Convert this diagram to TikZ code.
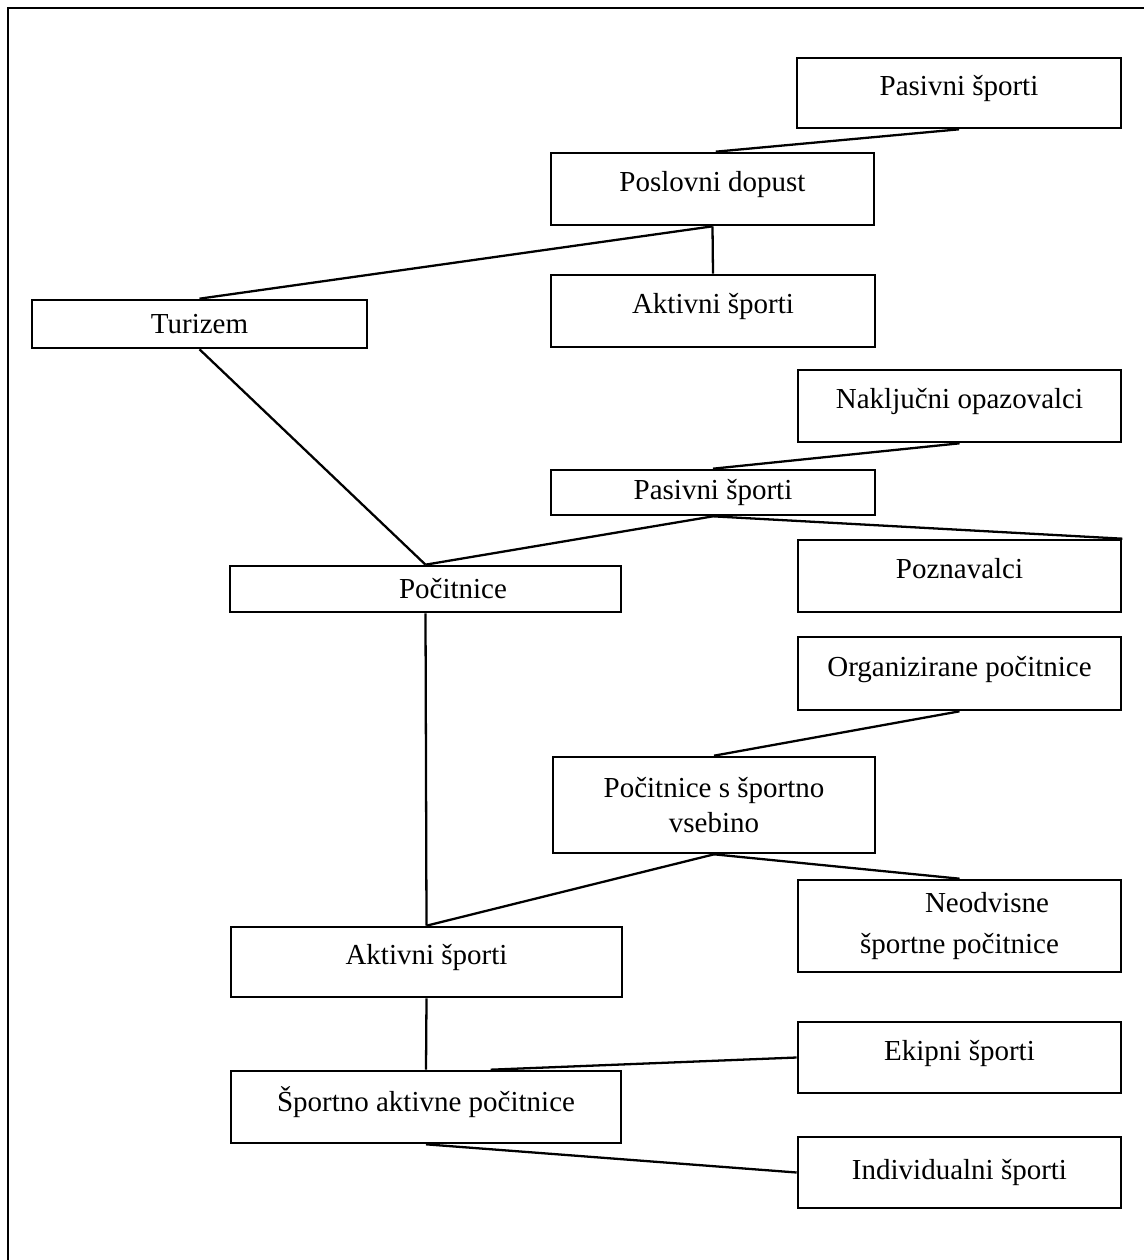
\documentclass[tikz,border=0pt]{standalone}
\usepackage{fontspec}
\setmainfont{Liberation Serif}
\begin{document}
\begin{tikzpicture}[
    box/.style={rectangle, draw=black, line width=1.5pt, inner sep=0pt, font=\fontsize{16.5}{20}\selectfont, align=center},
    tallbox/.style={box, text depth=0.3cm},
    link/.style={draw=black, line width=1.3pt}
]
    \useasboundingbox (0,0) rectangle (22.86,-25.2);
    % outer frame
    \draw[line width=1.5pt] (0.16,-26) -- (0.16,-0.16) -- (23.5,-0.16);

    % Turizem
    \node[box, minimum width=6.7cm, minimum height=0.96cm] (tur) at (3.99,-6.48) {Turizem};

    % Poslovni dopust
    \node[tallbox, minimum width=6.46cm, minimum height=1.44cm] (posl) at (14.25,-3.78) {Poslovni dopust};
    \node[tallbox, minimum width=6.48cm, minimum height=1.4cm] (pasT) at (19.18,-1.86) {Pasivni športi};
    \node[tallbox, minimum width=6.48cm, minimum height=1.44cm] (aktT) at (14.26,-6.22) {Aktivni športi};

    % Pocitnice
    \node[box, minimum width=7.82cm, minimum height=0.92cm] (poc) at (8.51,-11.78) {\hspace*{1.1cm}Počitnice};

    % Pasivni sporti
    \node[box, minimum width=6.48cm, minimum height=0.9cm] (pasM) at (14.26,-9.85) {Pasivni športi};
    \node[tallbox, minimum width=6.46cm, minimum height=1.44cm] (nakl) at (19.19,-8.12) {Naključni opazovalci};
    \node[tallbox, minimum width=6.46cm, minimum height=1.44cm] (pozn) at (19.19,-11.52) {Poznavalci};

    % Aktivni sporti
    \node[tallbox, minimum width=7.82cm, minimum height=1.4cm] (aktB) at (8.53,-19.24) {Aktivni športi};

    % Pocitnice s sportno vsebino
    \node[box, minimum width=6.44cm, minimum height=1.92cm] (pss) at (14.28,-16.1) {Počitnice s športno\\vsebino};
    \node[tallbox, minimum width=6.46cm, minimum height=1.46cm] (org) at (19.19,-13.47) {Organizirane počitnice};
    \node[box, minimum width=6.46cm, minimum height=1.84cm, font=\fontsize{16.5}{23}\selectfont] (neo) at (19.19,-18.52) {\hspace*{1.1cm}Neodvisne\\športne počitnice};

    % Sportno aktivne pocitnice
    \node[tallbox, minimum width=7.8cm, minimum height=1.44cm] (spa) at (8.52,-22.14) {Športno aktivne počitnice};
    \node[tallbox, minimum width=6.46cm, minimum height=1.42cm] (eki) at (19.19,-21.15) {Ekipni športi};
    \node[box, minimum width=6.46cm, minimum height=1.42cm] (ind) at (19.19,-23.45) {Individualni športi};

    % connectors
    \draw[link] (tur.north) -- (posl.south);
    \draw[link] (posl.85) -- (pasT.south);
    \draw[link] (posl.south) -- (aktT.north);
    \draw[link] (tur.south) -- (poc.north);
    \draw[link] (poc.north) -- (pasM.south);
    \draw[link] (pasM.north) -- (nakl.south);
    \draw[link] (pasM.south) -- (pozn.north east);
    \draw[link] (poc.south) -- (aktB.north);
    \draw[link] (aktB.north) -- (pss.south);
    \draw[link] (pss.north) -- (org.south);
    \draw[link] (pss.south) -- (neo.north);
    \draw[link] (aktB.south) -- (spa.north);
    \draw[link] (spa.30) -- (eki.west);
    \draw[link] (spa.south) -- (ind.west);
\end{tikzpicture}
\end{document}
